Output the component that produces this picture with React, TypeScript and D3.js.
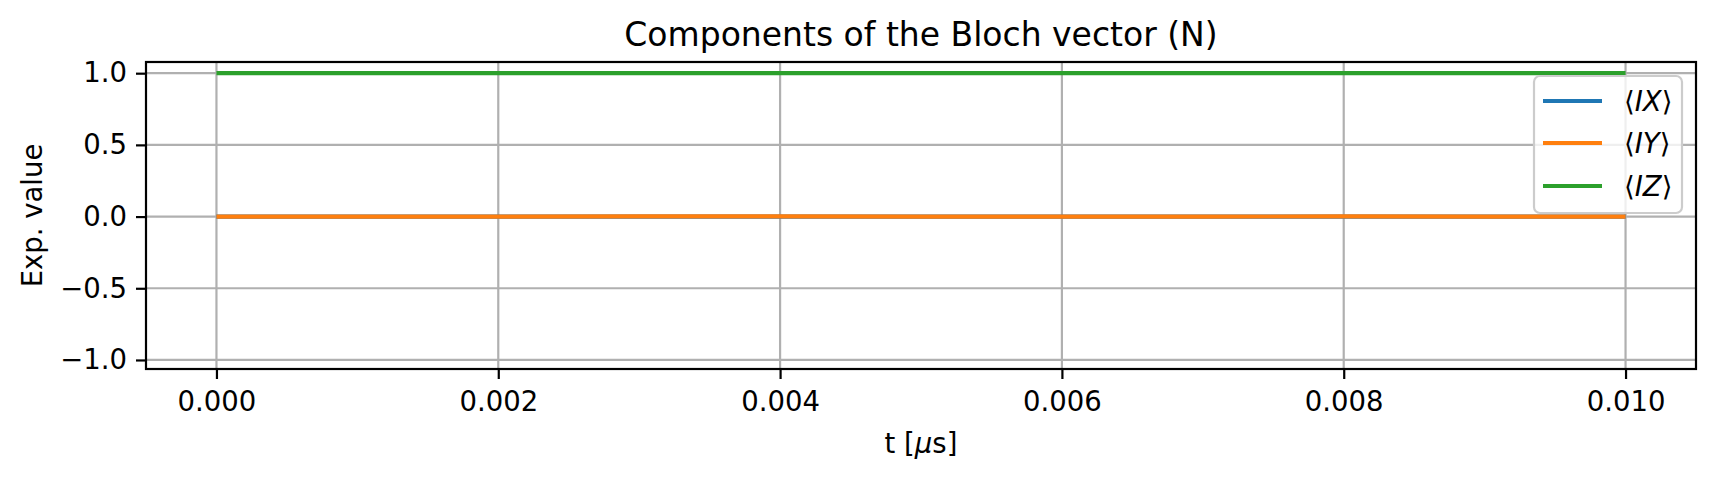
import React, { useEffect, useRef } from 'react';
import * as d3 from 'd3';

// time samples [µs] and expectation values
const times = [0, 0.001, 0.002, 0.003, 0.004, 0.005, 0.006, 0.007, 0.008, 0.009, 0.01];
const ixValues = [0, 0, 0, 0, 0, 0, 0, 0, 0, 0, 0];
const iyValues = [0, 0, 0, 0.001, 0.001, 0, -0.001, 0, 0.001, 0, -0.001];
const izValues = [1, 1, 1, 1, 1, 1, 1, 1, 1, 1, 1];

const xTicks = [0, 0.002, 0.004, 0.006, 0.008, 0.01];
const yTicks = [-1, -0.5, 0, 0.5, 1];

const seriesNames = ['IX', 'IY', 'IZ'];
const seriesColors = ['#1f77b4', '#ff7f0e', '#2ca02c'];

const W = 1716;
const H = 481;
const FONT = 'DejaVu Sans, sans-serif';

const App: React.FC = () => {
  const svgRef = useRef<SVGSVGElement>(null);

  useEffect(() => {
    const svg = d3.select(svgRef.current);
    svg.selectAll('*').remove();

    const left = 146, right = 1696, top = 62, bottom = 369;

    const x = d3.scaleLinear().domain([-0.0005, 0.0105]).range([left, right]);
    const y = d3.scaleLinear().domain([-1.063, 1.078]).range([bottom, top]);

    svg.append('rect').attr('width', W).attr('height', H).attr('fill', 'white');

    const clipId = 'plot-clip';
    svg.append('clipPath').attr('id', clipId)
      .append('rect')
      .attr('x', left).attr('y', top)
      .attr('width', right - left).attr('height', bottom - top);

    // grid
    const grid = svg.append('g').attr('stroke', '#b0b0b0').attr('stroke-width', 2.2);
    xTicks.forEach(t => {
      grid.append('line').attr('x1', x(t)).attr('x2', x(t)).attr('y1', top).attr('y2', bottom);
    });
    yTicks.forEach(t => {
      grid.append('line').attr('x1', left).attr('x2', right).attr('y1', y(t)).attr('y2', y(t));
    });

    // lines
    const allSeries = [ixValues, iyValues, izValues];
    const line = d3.line<number>()
      .x((_d, i) => x(times[i]))
      .y(d => y(d));

    const plot = svg.append('g').attr('clip-path', `url(#${clipId})`);
    allSeries.forEach((vals, i) => {
      plot.append('path')
        .datum(vals)
        .attr('d', line)
        .attr('fill', 'none')
        .attr('stroke', seriesColors[i])
        .attr('stroke-width', 4.2)
        .attr('stroke-linecap', 'butt');
    });

    // spines
    svg.append('rect')
      .attr('x', left).attr('y', top)
      .attr('width', right - left).attr('height', bottom - top)
      .attr('fill', 'none').attr('stroke', 'black').attr('stroke-width', 2.2);

    // x axis
    const xAxis = svg.append('g')
      .attr('transform', `translate(0,${bottom})`)
      .call(d3.axisBottom(x).tickValues(xTicks).tickSize(10).tickPadding(12)
        .tickFormat(d => d3.format('.3f')(d as number)));
    xAxis.select('.domain').remove();
    xAxis.selectAll('.tick line').attr('stroke', 'black').attr('stroke-width', 2.2);
    xAxis.selectAll('.tick text')
      .attr('font-family', FONT).attr('font-size', 27.5).attr('fill', 'black');

    // y axis
    const yAxis = svg.append('g')
      .attr('transform', `translate(${left},0)`)
      .call(d3.axisLeft(y).tickValues(yTicks).tickSize(10).tickPadding(9)
        .tickFormat(d => d3.format('.1f')(d as number).replace('-', '\u2212')));
    yAxis.select('.domain').remove();
    yAxis.selectAll('.tick line').attr('stroke', 'black').attr('stroke-width', 2.2);
    yAxis.selectAll('.tick text')
      .attr('font-family', FONT).attr('font-size', 27.5).attr('fill', 'black');

    // title
    svg.append('text')
      .attr('x', (left + right) / 2).attr('y', 45.5)
      .attr('text-anchor', 'middle')
      .attr('font-family', FONT).attr('font-size', 33)
      .text('Components of the Bloch vector (N)');

    // x label
    const xl = svg.append('text')
      .attr('x', (left + right) / 2).attr('y', 453)
      .attr('text-anchor', 'middle')
      .attr('font-family', FONT).attr('font-size', 27.5);
    xl.append('tspan').text('t [');
    xl.append('tspan').attr('font-style', 'italic').text('\u03bc');
    xl.append('tspan').text('s]');

    // y label
    svg.append('text')
      .attr('transform', `translate(42,${(top + bottom) / 2}) rotate(-90)`)
      .attr('text-anchor', 'middle')
      .attr('font-family', FONT).attr('font-size', 27.5)
      .text('Exp. value');

    // legend
    const lg = svg.append('g');
    lg.append('rect')
      .attr('x', 1534).attr('y', 76)
      .attr('width', 148).attr('height', 137)
      .attr('rx', 6)
      .attr('fill', 'white').attr('fill-opacity', 0.8)
      .attr('stroke', '#cccccc').attr('stroke-width', 2.2);
    const rowY = [101, 143, 186];
    seriesNames.forEach((name, i) => {
      lg.append('line')
        .attr('x1', 1543).attr('x2', 1602)
        .attr('y1', rowY[i]).attr('y2', rowY[i])
        .attr('stroke', seriesColors[i]).attr('stroke-width', 4.2);
      const t = lg.append('text')
        .attr('x', 1624).attr('y', rowY[i] + 10)
        .attr('font-family', FONT).attr('font-size', 27.5);
      t.append('tspan').text('\u27e8');
      t.append('tspan').attr('font-style', 'italic').text(name);
      t.append('tspan').text('\u27e9');
    });
  }, []);

  return (
    <svg
      ref={svgRef}
      width={W}
      height={H}
      style={{ position: 'absolute', left: 0, top: 0 }}
    />
  );
};

export default App;
